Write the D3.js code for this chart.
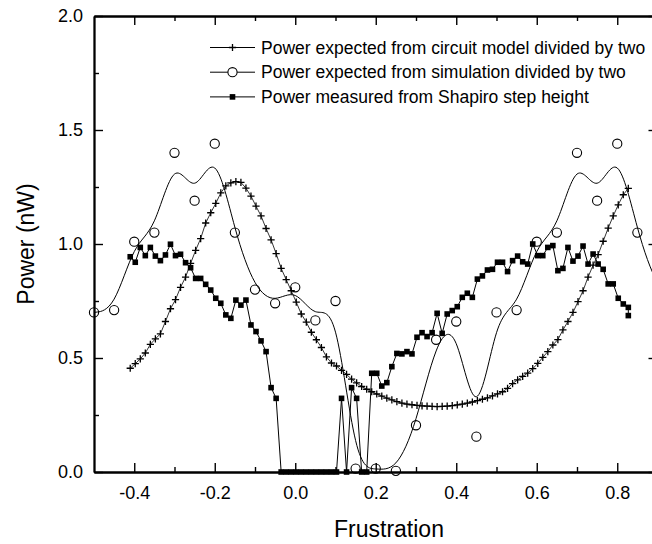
<!DOCTYPE html>
<html>
<head>
<meta charset="utf-8">
<script src="https://cdnjs.cloudflare.com/ajax/libs/d3/7.8.5/d3.min.js"></script>
<style>
  body { margin: 0; background: #fff; }
  svg { display: block; }
  text { font-family: "Liberation Sans", Arial, sans-serif; fill: #000; }
</style>
</head>
<body>
<div class="chart"></div>
<script>
// frustration grid shared by the circuit model and the measured points
var frustration = [-0.41, -0.3975, -0.385, -0.3725, -0.36, -0.3475, -0.335, -0.3225, -0.31, -0.2975,
    -0.285, -0.2725, -0.26, -0.2475, -0.235, -0.2225, -0.21, -0.1975, -0.185, -0.1725,
    -0.16, -0.1475, -0.135, -0.1225, -0.11, -0.0975, -0.085, -0.0725, -0.06, -0.0475,
    -0.035, -0.0225, -0.01, 0.0025, 0.015, 0.0275, 0.04, 0.0525, 0.065, 0.0775,
    0.09, 0.1025, 0.115, 0.1275, 0.14, 0.1525, 0.165, 0.1775, 0.19, 0.2025,
    0.215, 0.2275, 0.24, 0.2525, 0.265, 0.2775, 0.29, 0.3025, 0.315, 0.3275,
    0.34, 0.3525, 0.365, 0.3775, 0.39, 0.4025, 0.415, 0.4275, 0.44, 0.4525,
    0.465, 0.4775, 0.49, 0.5025, 0.515, 0.5275, 0.54, 0.5525, 0.565, 0.5775,
    0.59, 0.6025, 0.615, 0.6275, 0.64, 0.6525, 0.665, 0.6775, 0.69, 0.7025,
    0.715, 0.7275, 0.74, 0.7525, 0.765, 0.7775, 0.79, 0.8025, 0.815, 0.8275];

var circuitPower = [0.455, 0.475, 0.496, 0.522, 0.560, 0.584, 0.606, 0.660, 0.716, 0.756,
    0.810, 0.855, 0.915, 0.972, 1.024, 1.092, 1.137, 1.178, 1.224, 1.255,
    1.268, 1.274, 1.270, 1.245, 1.210, 1.166, 1.123, 1.068, 1.018, 0.958,
    0.893, 0.844, 0.795, 0.745, 0.693, 0.657, 0.613, 0.580, 0.546, 0.505,
    0.478, 0.465, 0.446, 0.428, 0.407, 0.391, 0.375, 0.363, 0.352, 0.342,
    0.333, 0.324, 0.316, 0.309, 0.302, 0.298, 0.295, 0.292, 0.290, 0.289,
    0.288, 0.287, 0.288, 0.289, 0.291, 0.294, 0.298, 0.302, 0.307, 0.313,
    0.319, 0.325, 0.334, 0.343, 0.352, 0.367, 0.388, 0.404, 0.419, 0.434,
    0.453, 0.476, 0.503, 0.528, 0.557, 0.581, 0.623, 0.660, 0.700, 0.747,
    0.795, 0.855, 0.907, 0.953, 1.012, 1.070, 1.123, 1.172, 1.216, 1.244];

// measured points: one per grid value, plus a second reading at the last one
var measuredX = frustration.concat([0.8275]);
var measuredPower = [0.944, 0.920, 0.985, 0.949, 0.985, 0.947, 0.927, 0.952, 0.999, 0.949,
    0.955, 0.918, 0.896, 0.849, 0.849, 0.823, 0.798, 0.762, 0.740, 0.689,
    0.674, 0.754, 0.732, 0.754, 0.645, 0.616, 0.575, 0.528, 0.370, 0.323,
    0, 0, 0, 0, 0, 0, 0, 0, 0, 0,
    0, 0, 0.323, 0, 0.370, 0.323, 0, 0, 0.433, 0.433,
    0.377, 0.392, 0.462, 0.520, 0.518, 0.528, 0.518, 0.591, 0.611, 0.594,
    0.611, 0.696, 0.608, 0.693, 0.708, 0.725, 0.766, 0.784, 0.766, 0.846,
    0.860, 0.886, 0.889, 0.920, 0.920, 0.879, 0.927, 0.947, 0.922, 0.912,
    1.000, 0.949, 0.949, 0.985, 0.993, 0.883, 0.893, 0.985, 0.925, 0.947,
    0.991, 0.912, 0.956, 0.912, 0.889, 0.825, 0.825, 0.762, 0.737, 0.722,
    0.686];

// simulation points (the last two sit just past the right edge)
var simX = [-0.5, -0.45, -0.4, -0.35, -0.3, -0.25, -0.2, -0.15, -0.1, -0.05,
    0.0, 0.05, 0.1, 0.15, 0.2, 0.25, 0.3, 0.35, 0.4, 0.45,
    0.5, 0.55, 0.6, 0.65, 0.7, 0.75, 0.8, 0.85, 0.9, 0.95];
var simPower = [0.70, 0.71, 1.01, 1.05, 1.40, 1.19, 1.44, 1.05, 0.80, 0.74,
    0.81, 0.665, 0.75, 0.015, 0.015, 0.005, 0.205, 0.58, 0.66, 0.155,
    0.70, 0.71, 1.01, 1.05, 1.40, 1.19, 1.44, 1.05, 0.80, 0.74];

var xMajor = [-0.4, -0.2, 0.0, 0.2, 0.4, 0.6, 0.8],
    xMinor = [-0.3, -0.1, 0.1, 0.3, 0.5, 0.7],
    yMajor = [0.0, 0.5, 1.0, 1.5, 2.0],
    yMinor = [0.25, 0.75, 1.25, 1.75];

var legendNames = ["Power expected from circuit model divided by two",
    "Power expected from simulation divided by two",
    "Power measured from Shapiro step height"];

var plotLeft = 94, plotRight = 657.5, plotTop = 16, plotBottom = 472;

var x = d3.scaleLinear().domain([-0.5, 0.9]).range([plotLeft, plotRight]);
var y = d3.scaleLinear().domain([0, 2]).range([plotBottom, plotTop]);

var svg = d3.select(".chart").append("svg")
    .attr("width", 652)
    .attr("height", 544);

function zip(xs, ys) {
    return xs.map(function (d, i) { return [d, ys[i]]; });
}
var circuit = zip(frustration, circuitPower),
    measured = zip(measuredX, measuredPower),
    sim = zip(simX, simPower);

// axes: all ticks point inwards
function styleAxis(g) {
    g.selectAll(".domain").attr("stroke", "#000").attr("stroke-width", 1.8);
    g.selectAll(".tick line").attr("stroke", "#000").attr("stroke-width", 1.4);
    g.selectAll("text").attr("font-size", 18).attr("fill", "#000")
        .attr("font-family", "'Liberation Sans', Arial, sans-serif");
}
var fmt = function (d) { return d.toFixed(1); };

svg.append("g").attr("transform", "translate(0," + plotBottom + ")")
    .call(d3.axisBottom(x).tickValues(xMajor).tickFormat(fmt).tickSize(-9).tickSizeOuter(0).tickPadding(14))
    .call(styleAxis);
svg.append("g").attr("transform", "translate(0," + plotBottom + ")")
    .call(d3.axisBottom(x).tickValues(xMinor).tickFormat("").tickSize(-5).tickSizeOuter(0))
    .call(styleAxis);
svg.append("g").attr("transform", "translate(0," + plotTop + ")")
    .call(d3.axisTop(x).tickValues(xMajor).tickFormat("").tickSize(-9).tickSizeOuter(0))
    .call(styleAxis);
svg.append("g").attr("transform", "translate(0," + plotTop + ")")
    .call(d3.axisTop(x).tickValues(xMinor).tickFormat("").tickSize(-5).tickSizeOuter(0))
    .call(styleAxis);
svg.append("g").attr("transform", "translate(" + plotLeft + ",0)")
    .call(d3.axisLeft(y).tickValues(yMajor).tickFormat(fmt).tickSize(-9).tickSizeOuter(0).tickPadding(11))
    .call(styleAxis);
svg.append("g").attr("transform", "translate(" + plotLeft + ",0)")
    .call(d3.axisLeft(y).tickValues(yMinor).tickFormat("").tickSize(-5).tickSizeOuter(0))
    .call(styleAxis);
svg.append("g").attr("transform", "translate(" + plotRight + ",0)")
    .call(d3.axisRight(y).tickValues(yMajor).tickFormat("").tickSize(-9).tickSizeOuter(0))
    .call(styleAxis);
svg.append("g").attr("transform", "translate(" + plotRight + ",0)")
    .call(d3.axisRight(y).tickValues(yMinor).tickFormat("").tickSize(-5).tickSizeOuter(0))
    .call(styleAxis);

svg.append("text")
    .attr("x", 389).attr("y", 537)
    .attr("text-anchor", "middle")
    .attr("font-size", 23)
    .text("Frustration");
svg.append("text")
    .attr("transform", "translate(34," + ((plotTop + plotBottom) / 2) + ") rotate(-90)")
    .attr("text-anchor", "middle")
    .attr("font-size", 23)
    .text("Power (nW)");

// lines
var line = d3.line().x(function (d) { return x(d[0]); }).y(function (d) { return y(d[1]); });

svg.append("path").datum(sim)
    .attr("fill", "none").attr("stroke", "#000").attr("stroke-width", 1)
    .attr("d", line.curve(d3.curveBasis));
line.curve(d3.curveLinear);
svg.append("path").datum(circuit)
    .attr("fill", "none").attr("stroke", "#000").attr("stroke-width", 0.8)
    .attr("d", line);
svg.append("path").datum(measured)
    .attr("fill", "none").attr("stroke", "#000").attr("stroke-width", 1)
    .attr("d", line);

// markers
function crossPath(s) {
    return "M" + (-s) + ",0H" + s + "M0," + (-s) + "V" + s;
}
svg.append("g").selectAll("circle")
    .data(sim.filter(function (d) { return d[0] <= 0.9; }))
    .enter().append("circle")
    .attr("cx", function (d) { return x(d[0]); })
    .attr("cy", function (d) { return y(d[1]); })
    .attr("r", 4.6)
    .attr("fill", "none").attr("stroke", "#000").attr("stroke-width", 1.1);

svg.append("g").selectAll("path")
    .data(circuit)
    .enter().append("path")
    .attr("transform", function (d) { return "translate(" + x(d[0]) + "," + y(d[1]) + ")"; })
    .attr("d", crossPath(3.6))
    .attr("stroke", "#000").attr("stroke-width", 1.3);

svg.append("g").selectAll("rect")
    .data(measured)
    .enter().append("rect")
    .attr("x", function (d) { return x(d[0]) - 2.8; })
    .attr("y", function (d) { return y(d[1]) - 2.8; })
    .attr("width", 5.6).attr("height", 5.6)
    .attr("fill", "#000");

// legend
var legend = svg.append("g").selectAll("g")
    .data(legendNames)
    .enter().append("g")
    .attr("transform", function (d, i) { return "translate(210," + (47.5 + i * 24.7) + ")"; });

legend.append("line")
    .attr("x1", 0).attr("x2", 45)
    .attr("stroke", "#000").attr("stroke-width", 1);
legend.append("text")
    .attr("x", 51).attr("y", 6)
    .attr("font-size", 17.5)
    .text(function (d) { return d; });

legend.filter(function (d, i) { return i === 0; }).append("path")
    .attr("transform", "translate(22.5,0)")
    .attr("d", crossPath(3.6))
    .attr("stroke", "#000").attr("stroke-width", 1.3);
legend.filter(function (d, i) { return i === 1; }).append("circle")
    .attr("cx", 22.5).attr("r", 4.6)
    .attr("fill", "#fff").attr("stroke", "#000").attr("stroke-width", 1.1);
legend.filter(function (d, i) { return i === 2; }).append("rect")
    .attr("x", 22.5 - 2.8).attr("y", -2.8)
    .attr("width", 5.6).attr("height", 5.6)
    .attr("fill", "#000");
</script>
</body>
</html>
